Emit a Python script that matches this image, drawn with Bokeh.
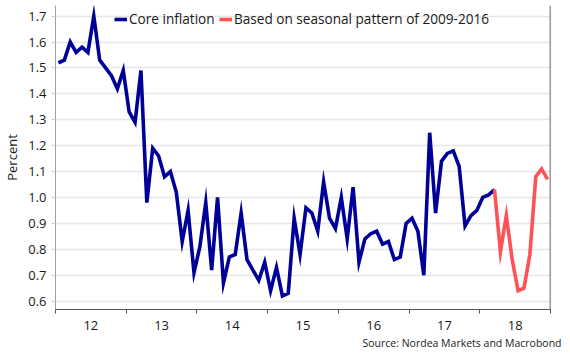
from bokeh.plotting import figure
from bokeh.models import (Range1d, FixedTicker, Legend, LegendItem, Title, Span,
                          NumeralTickFormatter)
from bokeh.embed import file_html
from bokeh.resources import INLINE

# ---------------- data ----------------
start_year = 2012
# monthly core inflation, Jan 2012 .. Mar 2018
core_inflation = [
    1.52, 1.53, 1.60, 1.56, 1.58, 1.56, 1.70, 1.53, 1.50, 1.47, 1.42, 1.49,
    1.33, 1.29, 1.49, 0.98, 1.19, 1.16, 1.08, 1.10, 1.02, 0.83, 0.95, 0.71,
    0.81, 0.98, 0.72, 1.00, 0.67, 0.77, 0.78, 0.94, 0.76, 0.72, 0.68, 0.75,
    0.64, 0.73, 0.62, 0.63, 0.92, 0.78, 0.96, 0.94, 0.87, 1.06, 0.92, 0.88,
    1.00, 0.84, 1.04, 0.75, 0.84, 0.86, 0.87, 0.82, 0.83, 0.76, 0.77, 0.90,
    0.92, 0.87, 0.70, 1.25, 0.94, 1.14, 1.17, 1.18, 1.12, 0.89, 0.93, 0.95,
    1.00, 1.01, 1.03,
]
# seasonal-pattern projection, Mar 2018 .. Dec 2018
seasonal_start_month = 74  # months after Jan 2012
seasonal_pattern = [1.03, 0.79, 0.93, 0.76, 0.64, 0.65, 0.78, 1.08, 1.11, 1.07]

year_ticks = [2012, 2013, 2014, 2015, 2016, 2017, 2018, 2019]
year_labels = ["12", "13", "14", "15", "16", "17", "18"]
y_ticks = [0.6, 0.7, 0.8, 0.9, 1.0, 1.1, 1.2, 1.3, 1.4, 1.5, 1.6, 1.7]

core_name = "Core inflation"
seasonal_name = "Based on seasonal pattern of 2009-2016"
source_text = "Source: Nordea Markets and Macrobond"

# ---------------- derived positions ----------------
x_core = [start_year + (i + 0.5) / 12 for i in range(len(core_inflation))]
x_seas = [start_year + (seasonal_start_month + i + 0.5) / 12
          for i in range(len(seasonal_pattern))]
label_pos = [y + 0.5 for y in year_ticks[:-1]]

FONT = "Open Sans"
TXT = "#1a1a1a"

p = figure(width=566, height=356, output_backend="svg", toolbar_location=None,
           x_range=Range1d(year_ticks[0], year_ticks[-1]),
           y_range=Range1d(0.5676, 1.741),
           min_border_left=54, min_border_right=16,
           min_border_top=5, min_border_bottom=47)
p.outline_line_color = None
p.background_fill_color = "white"
p.border_fill_color = "white"
p.xgrid.visible = False

# y axis
p.yaxis.ticker = FixedTicker(ticks=y_ticks)
p.yaxis.formatter = NumeralTickFormatter(format="0.0")
p.yaxis.axis_line_color = "#a0a0a0"
p.yaxis.major_tick_line_color = "#d0d0d0"
p.yaxis.major_tick_out = 4
p.yaxis.major_tick_in = 0
p.yaxis.minor_tick_line_color = None
p.yaxis.major_label_standoff = 5
p.yaxis.major_label_text_font = FONT
p.yaxis.major_label_text_font_size = "13px"
p.yaxis.major_label_text_color = TXT
p.yaxis.axis_label = "Percent"
p.yaxis.axis_label_text_font = FONT
p.yaxis.axis_label_text_font_size = "13px"
p.yaxis.axis_label_text_font_style = "normal"
p.yaxis.axis_label_text_color = TXT
p.yaxis.axis_label_standoff = 4

p.ygrid.grid_line_color = "#e6e6e6"
p.ygrid.grid_line_width = 1.5

# x axis
p.xaxis.ticker = FixedTicker(ticks=label_pos, minor_ticks=year_ticks)
p.xaxis.major_label_overrides = {pos: lab for pos, lab in zip(label_pos, year_labels)}
p.xaxis.major_tick_line_color = None
p.xaxis.major_tick_out = 0
p.xaxis.major_tick_in = 0
p.xaxis.minor_tick_line_color = "#555555"
p.xaxis.minor_tick_out = 4
p.xaxis.minor_tick_in = 0
p.xaxis.axis_line_color = "#555555"
p.xaxis.major_label_standoff = 7
p.xaxis.major_label_text_font = FONT
p.xaxis.major_label_text_font_size = "13px"
p.xaxis.major_label_text_color = TXT

# right border line at the end of the x range
p.add_layout(Span(location=year_ticks[-1], dimension="height",
                  line_color="#333333", line_width=1.5))

# lines
r_core = p.line(x_core, core_inflation, line_color="#000099", line_width=3.6,
                line_join="miter")
r_seas = p.line(x_seas, seasonal_pattern, line_color="#ff5257", line_width=3.6,
                line_join="miter")

def make_legend(item_label, renderer, x, y):
    lg = Legend(items=[LegendItem(label=item_label, renderers=[renderer])],
                location=(x, y), orientation="horizontal",
                glyph_width=13, glyph_height=14, label_height=14,
                label_standoff=2, padding=0, margin=0, spacing=0,
                background_fill_alpha=0, border_line_color=None,
                label_text_font=FONT, label_text_font_size="13.6px",
                label_text_color=TXT)
    p.add_layout(lg)

make_legend(core_name, r_core, 59, 281)
make_legend(seasonal_name, r_seas, 164, 281)

src = Title(text=source_text, align="right", offset=-11, standoff=3,
            text_font=FONT, text_font_size="10.5px", text_font_style="normal",
            text_color=TXT)
p.add_layout(src, "below")

open("out.html", "w").write(file_html(p, INLINE))
